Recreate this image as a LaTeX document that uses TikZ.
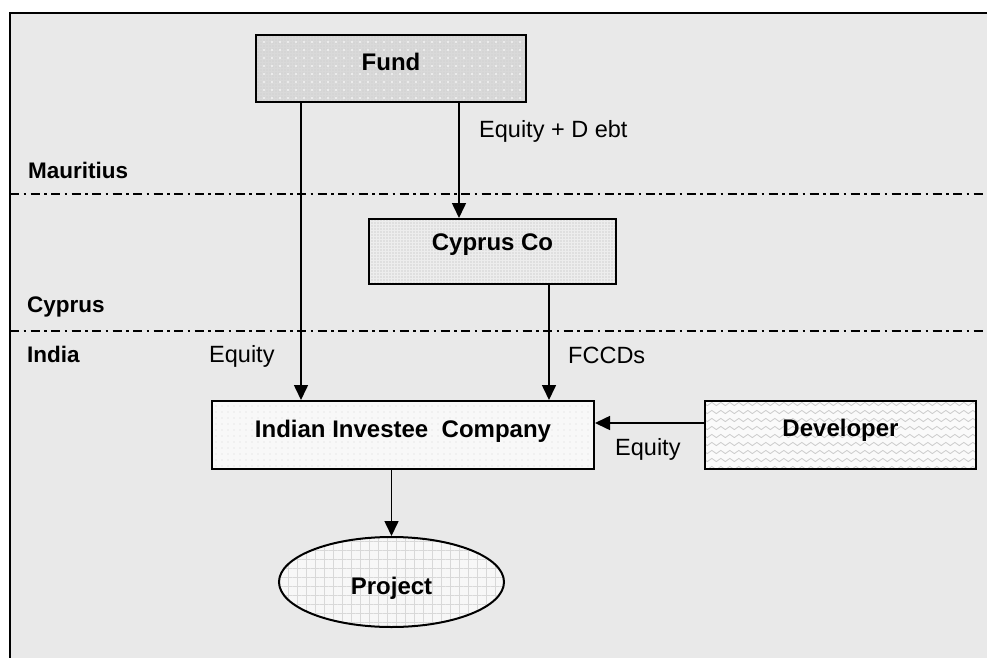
\documentclass[tikz,border=0pt]{standalone}
\usepackage{fontspec}
\setmainfont{Liberation Sans}
\usetikzlibrary{arrows.meta,shapes.geometric,patterns.meta,decorations.pathmorphing,calc}

\definecolor{paper}{HTML}{E9E9E9}
\definecolor{fundgrey}{HTML}{D9D9D9}
\definecolor{fundspeck}{HTML}{CBCBCB}
\definecolor{fundplus}{HTML}{F4F4F4}
\definecolor{cypgrey}{HTML}{EDEDED}
\definecolor{cypspeck}{HTML}{D2D2D2}
\definecolor{invwhite}{HTML}{F8F8F8}
\definecolor{invdot}{HTML}{D6D6D6}
\definecolor{devwhite}{HTML}{FAFAFA}
\definecolor{devwave}{HTML}{CCCCCC}
\definecolor{projwhite}{HTML}{F7F7F7}
\definecolor{projgrid}{HTML}{D8D8D8}

\tikzset{
  entity/.style={rectangle, draw=black, line width=2pt, inner sep=0pt,
    font=\fontsize{24}{29}\selectfont\bfseries},
  fundfill/.style={fill=fundgrey, path picture={
    \fill[pattern={Dots[distance=3pt,radius=0.55pt]}, pattern color=fundspeck]
      (path picture bounding box.south west) rectangle (path picture bounding box.north east);
    \fill[pattern={Dots[distance=8pt,radius=1.1pt]}, pattern color=fundplus]
      (path picture bounding box.south west) rectangle (path picture bounding box.north east);}},
  cypfill/.style={fill=cypgrey, path picture={
    \fill[pattern={Dots[distance=3pt,radius=0.9pt]}, pattern color=cypspeck]
      (path picture bounding box.south west) rectangle (path picture bounding box.north east);}},
  invfill/.style={fill=invwhite, path picture={
    \fill[pattern={Dots[distance=6pt,radius=0.6pt]}, pattern color=invdot]
      (path picture bounding box.south west) rectangle (path picture bounding box.north east);}},
  devfill/.style={fill=devwhite, path picture={
    \foreach \k in {0,...,9}
      \draw[decorate, decoration={snake, amplitude=1.6pt, segment length=9pt},
            draw=devwave, line width=0.8pt]
        ($(path picture bounding box.north west)+(-5,3+\k*8)$) -- ++(300,0);}},
  projfill/.style={fill=projwhite, path picture={
    \fill[pattern={Hatch[angle=0,distance=9pt,line width=0.7pt]}, pattern color=projgrid]
      (path picture bounding box.south west) rectangle (path picture bounding box.north east);}},
  flow/.style={-{Triangle[length=15pt,width=14pt]}, line width=1.6pt},
  border/.style={line width=2pt, draw=black},
  zone/.style={line width=2pt, dash pattern=on 9pt off 4.5pt on 2.5pt off 4.5pt},
  region/.style={anchor=base west, inner sep=0pt, font=\fontsize{22.5}{27}\selectfont\bfseries},
  flowtext/.style={anchor=base west, inner sep=0pt, font=\fontsize{23.5}{28}\selectfont},
}

\begin{document}
\begin{tikzpicture}[x=1pt,y=-1pt]
  \useasboundingbox (0,0) rectangle (987,658);
  % page and framed panel
  \fill[white] (0,0) rectangle (987,658);
  \fill[paper] (10,13) rectangle (987,658);
  \draw[border] (10,658) -- (10,13) -- (987,13);

  % jurisdiction separators
  \draw[zone] (10,193.5) -- (987,193.5);
  \draw[zone] (10,331) -- (987,331);

  % entities
  \node[entity, fundfill, minimum width=270pt, minimum height=67pt,
        text height=18pt, text depth=13pt] (fund) at (391,68.5) {Fund};
  \node[entity, cypfill, minimum width=247pt, minimum height=65pt,
        text height=18pt, text depth=20.4pt] (cyp) at (492.5,251.5) {Cyprus Co};
  \node[entity, invfill, minimum width=382pt, minimum height=68pt,
        text height=18pt, text depth=13.4pt] (inv) at (403,435) {Indian Investee\ \ Company};
  \node[entity, devfill, minimum width=271pt, minimum height=68pt,
        text height=18pt, text depth=14.6pt] (dev) at (840.5,435) {Developer};
  \node[entity, ellipse, projfill, minimum width=225pt, minimum height=90pt,
        text height=24.6pt, text depth=0pt] (proj) at (391.5,582) {Project};

  % connector tracks
  \coordinate (xa) at (301,0);
  \coordinate (xb) at (459,0);
  \coordinate (xc) at (549,0);
  \coordinate (xd) at (391.5,0);
  \coordinate (ya) at (0,423);

  \draw[flow] (fund.south -| xa) -- (inv.north -| xa);
  \draw[flow] (fund.south -| xb) -- (cyp.north -| xb);
  \draw[flow] (cyp.south -| xc) -- (inv.north -| xc);
  \draw[flow] (dev.west |- ya) -- (inv.east |- ya);
  \draw[flow] (inv.south -| xd) -- (proj.north);

  % jurisdiction names
  \node[region] (lmau) at (28,178) {Mauritius};
  \node[region] (lcyp) at (27,312) {Cyprus};
  \node[region] (lind) at (27,362) {India};

  % flow labels
  \node[flowtext] (led) at (479,137) {Equity + D ebt};
  \node[flowtext] (leq1) at (209,362) {Equity};
  \node[flowtext] (lfc) at (568,363) {FCCDs};
  \node[flowtext] (leq2) at (615,455) {Equity};
\end{tikzpicture}
\end{document}
